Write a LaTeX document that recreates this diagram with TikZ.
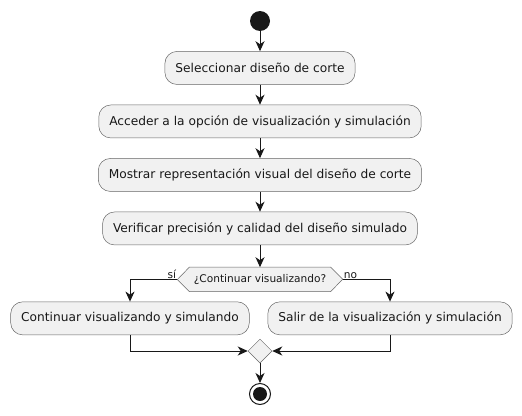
\documentclass[tikz,border=0pt]{standalone}
\usepackage{fontspec}
\setmainfont{DejaVu Sans}
\usetikzlibrary{shapes.geometric, arrows.meta, positioning}
\definecolor{actfill}{HTML}{F1F1F1}
\definecolor{ink}{HTML}{181818}
\tikzstyle{act} = [rectangle, rounded corners=12pt, draw=black!60, line width=0.5pt, fill=actfill, minimum height=33pt, inner xsep=10.5pt, font=\fontsize{12.2}{15}\selectfont, text=ink]
\tikzstyle{ask} = [rectangle, minimum width=141pt, minimum height=24pt, inner sep=0pt, font=\fontsize{10.6}{13}\selectfont, text=ink]
\tikzstyle{merge} = [diamond, draw=black!60, line width=0.5pt, fill=actfill, minimum size=24pt, inner sep=0pt]
\tikzstyle{line} = [line width=1pt, draw=ink, -{Stealth[length=10pt, width=9pt, inset=3pt]}]
\tikzstyle{lbl} = [font=\fontsize{10.6}{13}\selectfont, text=ink, inner sep=1pt]

\begin{document}
\begin{tikzpicture}[x=1pt, y=1pt, node distance=20pt]
\useasboundingbox (0,0) rectangle (522,-415);
\node (start) [circle, fill=ink, minimum size=20pt, inner sep=0pt] at (260,-21) {};
\node (sel) [act, below=of start] {Seleccionar diseño de corte};
\node (acc) [act, below=of sel] {Acceder a la opción de visualización y simulación};
\node (most) [act, below=of acc] {Mostrar representación visual del diseño de corte};
\node (verif) [act, below=of most] {Verificar precisión y calidad del diseño simulado};
\node (cond) [ask, below=22pt of verif] {¿Continuar visualizando?};
\node (cont) [act, below=10pt of cond, xshift=-130pt] {Continuar visualizando y simulando};
\node (salir) [act, below=10pt of cond, xshift=130pt] {Salir de la visualización y simulación};
\node (join) [merge] at (260,-351) {};
\node (stop) [circle, draw=ink, line width=1pt, fill=white, minimum size=21pt, inner sep=0pt] at (260,-394) {};
\node (stopdot) [circle, fill=ink, minimum size=14pt, inner sep=0pt] at (stop) {};

% hexagon round the question
\draw [draw=black!60, line width=0.5pt, fill=actfill] (cond.north west) -- (cond.north east) -- ++(12,-12) -- (cond.south east) -- (cond.south west) -- ++(-12,12) -- cycle;
\node (condtxt) [ask] at (cond) {¿Continuar visualizando?};
\coordinate (condl) at ([xshift=-12pt]cond.west);
\coordinate (condr) at ([xshift=12pt]cond.east);

\draw [line] (start) -- (sel);
\draw [line] (sel) -- (acc);
\draw [line] (acc) -- (most);
\draw [line] (most) -- (verif);
\draw [line] (verif) -- (cond);
\draw [line] (condl) -| (cont.north);
\draw [line] (condr) -| (salir.north);
\draw [line] (cont.south) |- (join.west);
\draw [line] (salir.south) |- (join.east);
\draw [line] (join) -- (stop);

\node (si) [lbl, above left=0pt and 0pt of condl] {sí};
\node (no) [lbl, above right=0pt and 0pt of condr] {no};
\end{tikzpicture}
\end{document}
